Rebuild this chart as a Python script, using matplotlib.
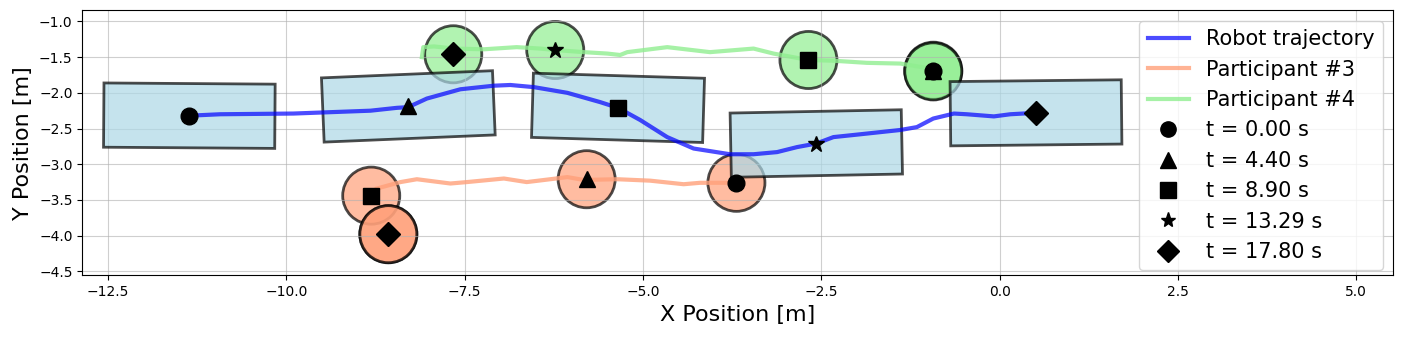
import numpy as np
import matplotlib
matplotlib.use('Agg')
import matplotlib.pyplot as plt
from matplotlib.patches import Rectangle, Circle
from matplotlib.lines import Line2D

# robot path (x, y) in metres
robot_x = [-11.36, -10.93, -9.90, -8.82, -8.45, -8.29, -8.03, -7.56, -7.09, -6.86,
           -6.53, -6.06, -5.60, -5.35, -5.04, -4.66, -4.29, -3.78, -3.45, -3.12,
           -2.84, -2.57, -2.33, -1.95, -1.39, -1.16, -0.93, -0.64, -0.46, -0.08,
           0.15, 0.51]
robot_y = [-2.32, -2.30, -2.29, -2.25, -2.21, -2.20, -2.08, -1.95, -1.90, -1.89,
           -1.92, -2.00, -2.13, -2.21, -2.38, -2.62, -2.78, -2.86, -2.86, -2.83,
           -2.76, -2.71, -2.62, -2.58, -2.52, -2.48, -2.36, -2.29, -2.30, -2.33,
           -2.30, -2.28]

# participant paths
p3_x = [-8.73, -8.40, -8.17, -7.70, -7.47, -6.95, -6.63, -6.30, -6.06, -5.83,
        -5.36, -4.90, -4.43, -4.20, -3.73]
p3_y = [-3.34, -3.25, -3.21, -3.27, -3.25, -3.20, -3.25, -3.21, -3.18, -3.22,
        -3.21, -3.23, -3.28, -3.26, -3.26]
p4_x = [-8.10, -8.08, -7.93, -7.65, -7.23, -6.77, -6.44, -6.23, -5.83, -5.50,
        -5.32, -5.22, -4.66, -4.06, -3.45, -3.17, -2.68, -2.33, -1.86, -1.39,
        -0.97]
p4_y = [-1.50, -1.36, -1.35, -1.38, -1.39, -1.36, -1.38, -1.40, -1.43, -1.45,
        -1.47, -1.43, -1.36, -1.43, -1.38, -1.45, -1.54, -1.55, -1.58, -1.59,
        -1.66]

# snapshots
snap_times = [0.00, 4.40, 8.90, 13.29, 17.80]
snap_markers = ['o', '^', 's', '*', 'D']
robot_snap_x = [-11.36, -8.29, -5.35, -2.57, 0.51]
robot_snap_y = [-2.32, -2.19, -2.21, -2.71, -2.28]
robot_heading = [-0.4, 2.4, -1.7, 1.1, 0.6]   # degrees
p3_snap_x = [-3.69, -5.79, -8.81, -8.57, -8.57]
p3_snap_y = [-3.26, -3.21, -3.44, -3.98, -3.98]
p4_snap_x = [-0.93, -0.93, -2.68, -6.23, -7.66]
p4_snap_y = [-1.69, -1.70, -1.54, -1.40, -1.46]

robot_len = 2.4
robot_wid = 0.9
person_radius = 0.4

fig = plt.figure(figsize=(14.03, 3.37), dpi=100)
ax = fig.add_axes([0.0587, 0.183, 0.9344, 0.786])

ax.plot(robot_x, robot_y, color='blue', lw=3, alpha=0.7, label='Robot trajectory', zorder=3)
ax.plot(p3_x, p3_y, color='lightsalmon', lw=3, alpha=0.8, label='Participant #3', zorder=3)
ax.plot(p4_x, p4_y, color='lightgreen', lw=3, alpha=0.8, label='Participant #4', zorder=3)

for i in range(len(snap_times)):
    ax.add_patch(Circle((p3_snap_x[i], p3_snap_y[i]), person_radius, facecolor='lightsalmon',
                        edgecolor='black', lw=2, alpha=0.7, zorder=1))
    ax.add_patch(Circle((p4_snap_x[i], p4_snap_y[i]), person_radius, facecolor='lightgreen',
                        edgecolor='black', lw=2, alpha=0.7, zorder=1))

for i in range(len(snap_times)):
    ax.add_patch(Rectangle((robot_snap_x[i] - robot_len / 2, robot_snap_y[i] - robot_wid / 2),
                           robot_len, robot_wid, angle=robot_heading[i], rotation_point='center',
                           facecolor='lightblue', edgecolor='black', lw=2, alpha=0.7, zorder=2))

for i in range(len(snap_times)):
    m = snap_markers[i]
    for xs, ys in [(robot_snap_x, robot_snap_y), (p3_snap_x, p3_snap_y), (p4_snap_x, p4_snap_y)]:
        ax.plot(xs[i], ys[i], marker=m, color='black', ms=12, ls='none', zorder=5)

handles, labels = ax.get_legend_handles_labels()
for t, m in zip(snap_times, snap_markers):
    handles.append(Line2D([], [], marker=m, color='black', ls='none', ms=11))
    labels.append(f't = {t:.2f} s')
ax.legend(handles, labels, loc='upper right', fontsize=15)

ax.set_xlim(-12.86, 5.52)
ax.set_ylim(-4.556, -0.846)
ax.set_xlabel('X Position [m]', fontsize=16)
ax.set_ylabel('Y Position [m]', fontsize=16)
ax.grid(True, alpha=0.6)

fig.savefig('out.png', dpi=100)
